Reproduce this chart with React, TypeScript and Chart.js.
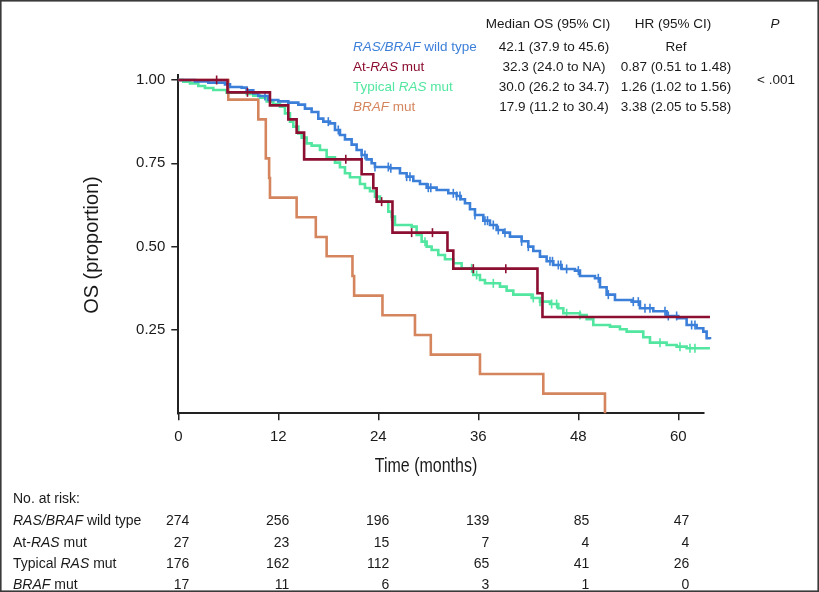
import React, { useEffect, useRef } from "react";
import { Chart, registerables } from "chart.js";

Chart.register(...registerables);

const FONT = '"Liberation Sans", Arial, Helvetica, sans-serif';

const BLUE = "#3b7fd9";
const RED = "#8c0e30";
const GREEN = "#52e6a0";
const ORANGE = "#d5855d";
const INK = "#1a1a1a";

const xTicks = [0, 12, 24, 36, 48, 60];
const yTicks = [0.25, 0.5, 0.75, 1.0];

// RAS/BRAF wild type (event times, survival after the event, censor times)
const wtTime = [0, 2.0, 3.6, 5.6, 6.2, 7.6, 8.2, 9.0, 9.6, 10.8, 12.0, 13.2, 14.4, 15.2, 16.0, 16.8, 17.4, 18.2, 18.8, 19.4, 20.0, 20.8, 21.4, 22.0, 22.6, 23.2, 23.6, 25.4, 26.6, 27.4, 28.2, 29.0, 29.8, 31.0, 32.4, 33.4, 33.9, 34.4, 35.0, 35.6, 36.6, 37.4, 38.2, 39.0, 39.8, 41.2, 42.0, 42.6, 43.4, 44.2, 45.0, 46.0, 47.6, 48.2, 50.0, 50.6, 51.4, 52.4, 54.4, 55.4, 57.0, 58.6, 60.0, 61.0, 62.2, 63.0, 63.4, 63.8];
const wtSurv = [1.0, 0.996, 0.992, 0.987, 0.979, 0.977, 0.969, 0.96, 0.952, 0.94, 0.936, 0.932, 0.926, 0.914, 0.904, 0.884, 0.875, 0.87, 0.85, 0.835, 0.822, 0.806, 0.79, 0.775, 0.762, 0.75, 0.739, 0.735, 0.72, 0.71, 0.697, 0.688, 0.677, 0.67, 0.66, 0.652, 0.642, 0.63, 0.612, 0.595, 0.578, 0.565, 0.55, 0.542, 0.53, 0.516, 0.5, 0.487, 0.47, 0.456, 0.445, 0.433, 0.428, 0.412, 0.405, 0.378, 0.356, 0.34, 0.335, 0.315, 0.306, 0.292, 0.285, 0.265, 0.255, 0.245, 0.225, 0.222];
const wtCensor = [10.4, 18.0, 19.2, 22.0, 22.4, 23.6, 25.2, 25.5, 27.4, 27.8, 30.0, 30.3, 33.0, 33.4, 33.8, 35.6, 36.8, 37.1, 37.8, 38.4, 39.2, 41.2, 42.0, 44.6, 44.9, 45.6, 45.9, 46.6, 48.0, 50.4, 51.6, 54.6, 55.2, 56.0, 56.6, 58.4, 58.8, 59.8, 61.6, 62.0];

// At-RAS mut
const atTime = [0, 5.9, 11.0, 13.2, 14.2, 15.1, 22.0, 23.4, 23.8, 25.7, 32.3, 33.0, 43.1, 43.7, 63.8];
const atSurv = [1.0, 0.963, 0.924, 0.882, 0.842, 0.762, 0.717, 0.675, 0.635, 0.542, 0.488, 0.434, 0.36, 0.289, 0.289];
const atCensor = [4.6, 8.3, 20.1, 24.4, 28.0, 30.5, 35.4, 39.3];

// Typical RAS mut
const tyTime = [0, 0.6, 1.4, 2.4, 3.2, 4.2, 5.8, 8.2, 9.0, 9.8, 10.6, 11.4, 12.2, 12.8, 13.4, 13.8, 14.4, 14.8, 15.4, 16.0, 17.0, 17.8, 18.8, 19.4, 20.0, 20.6, 21.8, 22.4, 23.0, 23.6, 24.2, 25.2, 25.6, 26.0, 28.0, 28.6, 29.2, 29.8, 30.4, 31.2, 32.0, 33.0, 34.0, 35.4, 36.2, 36.8, 38.6, 39.4, 40.2, 42.4, 43.4, 44.6, 45.6, 46.2, 48.2, 49.0, 49.8, 51.8, 53.0, 53.8, 55.8, 56.6, 58.6, 59.8, 61.0, 63.8];
const tySurv = [1.0, 0.995, 0.99, 0.982, 0.976, 0.97, 0.962, 0.958, 0.953, 0.947, 0.936, 0.928, 0.92, 0.9, 0.875, 0.86, 0.84, 0.827, 0.81, 0.803, 0.79, 0.768, 0.752, 0.738, 0.72, 0.708, 0.688, 0.676, 0.666, 0.65, 0.636, 0.605, 0.59, 0.565, 0.56, 0.535, 0.515, 0.5, 0.49, 0.475, 0.462, 0.45, 0.435, 0.415, 0.4, 0.39, 0.38, 0.368, 0.356, 0.346, 0.335, 0.328, 0.315, 0.3, 0.295, 0.282, 0.265, 0.26, 0.252, 0.245, 0.228, 0.212, 0.205, 0.2, 0.195, 0.195];
const tyCensor = [25.6, 29.6, 35.2, 35.8, 37.8, 42.6, 43.4, 44.8, 45.4, 46.6, 48.2, 57.8, 60.2, 61.4, 62.0];

// BRAF mut
const brTime = [0, 6.0, 9.6, 10.5, 10.9, 11.0, 14.2, 16.5, 17.8, 20.9, 21.1, 24.5, 28.4, 30.3, 36.2, 43.8, 51.2];
const brSurv = [1.0, 0.941, 0.882, 0.765, 0.706, 0.647, 0.588, 0.529, 0.471, 0.412, 0.353, 0.294, 0.235, 0.176, 0.118, 0.059, 0];

// Number at risk
const riskWT = [274, 256, 196, 139, 85, 47];
const riskAt = [27, 23, 15, 7, 4, 4];
const riskTy = [176, 162, 112, 65, 41, 26];
const riskBr = [17, 11, 6, 3, 1, 0];

// Summary table
const medianOS = ["42.1 (37.9 to 45.6)", "32.3 (24.0 to NA)", "30.0 (26.2 to 34.7)", "17.9 (11.2 to 30.4)"];
const hazardRatio = ["Ref", "0.87 (0.51 to 1.48)", "1.26 (1.02 to 1.56)", "3.38 (2.05 to 5.58)"];
const pValue = "< .001";

type Seg = { t: string; i?: boolean };
const labelWT: Seg[] = [{ t: "RAS/BRAF", i: true }, { t: " wild type" }];
const labelAt: Seg[] = [{ t: "At-" }, { t: "RAS", i: true }, { t: " mut" }];
const labelTy: Seg[] = [{ t: "Typical " }, { t: "RAS", i: true }, { t: " mut" }];
const labelBr: Seg[] = [{ t: "BRAF", i: true }, { t: " mut" }];

function valueAt(times: number[], surv: number[], t: number) {
  let v = surv[0];
  for (let i = 0; i < times.length; i++) if (times[i] <= t) v = surv[i];
  return v;
}

function drawRich(ctx: CanvasRenderingContext2D, segs: Seg[], x: number, y: number, size: number, color: string, align: "left" | "center" | "right") {
  const fonts = segs.map((s) => `${s.i ? "italic " : ""}${size}px ${FONT}`);
  let total = 0;
  segs.forEach((s, k) => {
    ctx.font = fonts[k];
    total += ctx.measureText(s.t).width;
  });
  let cx = align === "center" ? x - total / 2 : align === "right" ? x - total : x;
  ctx.textAlign = "left";
  ctx.fillStyle = color;
  segs.forEach((s, k) => {
    ctx.font = fonts[k];
    ctx.fillText(s.t, cx, y);
    cx += ctx.measureText(s.t).width;
  });
}

const textPlugin = {
  id: "kmText",
  afterDraw(chart: any) {
    const ctx: CanvasRenderingContext2D = chart.ctx;
    const xs = chart.scales.x;
    ctx.save();
    ctx.textBaseline = "middle";

    // header table
    const hs = 13.5;
    drawRich(ctx, [{ t: "Median OS (95% CI)" }], 548, 24, hs, INK, "center");
    drawRich(ctx, [{ t: "HR (95% CI)" }], 673, 24, hs, INK, "center");
    drawRich(ctx, [{ t: "P", i: true }], 775, 24, hs, INK, "center");
    const labels = [labelWT, labelAt, labelTy, labelBr];
    const colors = [BLUE, RED, GREEN, ORANGE];
    const rowY = [47.7, 67.7, 87.7, 107.7];
    labels.forEach((l, k) => {
      drawRich(ctx, l, 353, rowY[k], hs, colors[k], "left");
      drawRich(ctx, [{ t: medianOS[k] }], 554, rowY[k], hs, INK, "center");
      drawRich(ctx, [{ t: hazardRatio[k] }], 676, rowY[k], hs, INK, "center");
    });
    drawRich(ctx, [{ t: pValue }], 776, 80, hs, INK, "center");

    // axis titles
    ctx.save();
    ctx.translate(426, 466);
    ctx.scale(0.8, 1);
    ctx.font = `20px ${FONT}`;
    ctx.textAlign = "center";
    ctx.fillStyle = INK;
    ctx.fillText("Time (months)", 0, 0);
    ctx.restore();

    ctx.save();
    ctx.translate(92, 245);
    ctx.rotate(-Math.PI / 2);
    ctx.scale(0.95, 1);
    ctx.font = `21px ${FONT}`;
    ctx.textAlign = "center";
    ctx.fillStyle = INK;
    ctx.fillText("OS (proportion)", 0, 0);
    ctx.restore();

    // risk table
    const rs = 14;
    drawRich(ctx, [{ t: "No. at risk:" }], 13, 499, rs, INK, "left");
    const riskRows = [riskWT, riskAt, riskTy, riskBr];
    const riskY = [521.3, 543, 564.5, 585];
    riskRows.forEach((row, k) => {
      drawRich(ctx, labels[k], 13, riskY[k], rs, INK, "left");
      row.forEach((n, j) => {
        const px = xs.getPixelForValue(xTicks[j]);
        drawRich(ctx, [{ t: String(n) }], px + 11, riskY[k], rs, INK, "right");
      });
    });

    // frame
    ctx.strokeStyle = "#3a3a3a";
    ctx.lineWidth = 1.6;
    ctx.strokeRect(0.8, 0.8, 817.4, 590.4);
    ctx.restore();
  },
};

function lineSet(times: number[], surv: number[], color: string) {
  return {
    type: "line",
    data: times.map((t, i) => ({ x: t, y: surv[i] })),
    borderColor: color,
    backgroundColor: color,
    borderWidth: 2.6,
    stepped: "before",
    pointRadius: 0,
    fill: false,
    clip: false,
  };
}

function censorSet(cens: number[], times: number[], surv: number[], color: string) {
  return {
    type: "line",
    data: cens.map((t) => ({ x: t, y: valueAt(times, surv, t) })),
    showLine: false,
    pointStyle: "line",
    pointRotation: 90,
    pointRadius: 4.5,
    pointBorderWidth: 1.6,
    pointBorderColor: color,
    borderColor: color,
    backgroundColor: color,
    clip: false,
  };
}

export default function App() {
  const ref = useRef<HTMLCanvasElement | null>(null);
  useEffect(() => {
    document.body.style.margin = "0";
    const canvas = ref.current;
    if (!canvas) return;
    const axisGrid = {
      display: true,
      drawOnChartArea: false,
      drawTicks: true,
      tickLength: 7,
      color: "#222",
      lineWidth: 1.5,
    };
    const chart = new Chart(canvas, {
      type: "line",
      data: {
        datasets: [
          censorSet(atCensor, atTime, atSurv, RED),
          lineSet(atTime, atSurv, RED),
          censorSet(wtCensor, wtTime, wtSurv, BLUE),
          lineSet(wtTime, wtSurv, BLUE),
          censorSet(tyCensor, tyTime, tySurv, GREEN),
          lineSet(tyTime, tySurv, GREEN),
          lineSet(brTime, brSurv, ORANGE),
        ] as any,
      },
      options: {
        animation: false,
        responsive: false,
        devicePixelRatio: 1,
        layout: { padding: { left: 0, right: 115.7, top: 75, bottom: 138.7 } },
        plugins: { legend: { display: false }, tooltip: { enabled: false } },
        scales: {
          x: {
            type: "linear",
            bounds: "data",
            afterDataLimits: (s: any) => {
              s.min = 0;
              s.max = 63;
            },
            afterBuildTicks: (s: any) => {
              s.ticks = xTicks.map((v) => ({ value: v }));
            },
            afterFit: (s: any) => {
              s.height = 40;
            },
            ticks: {
              font: { size: 15, family: FONT },
              color: INK,
              padding: 8,
              maxRotation: 0,
              autoSkip: false,
              callback: (v: any) => String(v),
            },
            grid: axisGrid,
            border: { display: true, color: "#222", width: 2 },
          },
          y: {
            type: "linear",
            bounds: "data",
            min: 0,
            max: 1.015,
            afterBuildTicks: (s: any) => {
              s.ticks = yTicks.map((v) => ({ value: v }));
            },
            afterFit: (s: any) => {
              s.width = 178.3;
            },
            ticks: {
              font: { size: 15, family: FONT },
              color: INK,
              padding: 6,
              autoSkip: false,
              callback: (v: any) => Number(v).toFixed(2),
            },
            grid: axisGrid,
            border: { display: true, color: "#222", width: 2 },
          },
        },
      } as any,
      plugins: [textPlugin],
    });
    return () => chart.destroy();
  }, []);
  return (
    <div style={{ width: 819, height: 592, background: "#fff" }}>
      <canvas ref={ref} width={819} height={592} style={{ display: "block" }} />
    </div>
  );
}
